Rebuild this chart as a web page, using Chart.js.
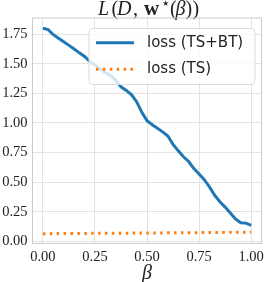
<!DOCTYPE html>
<html>
<head>
<meta charset="utf-8">
<script src="https://cdn.jsdelivr.net/npm/chart.js@4"></script>
<style>
  html, body { margin: 0; padding: 0; background: #fff; }
  #wrap { width: 269px; height: 282px; }
</style>
</head>
<body>
<div id="wrap"><canvas id="chart"></canvas></div>
<script>
// beta values on the x axis
const betas = [0.000, 0.025, 0.050, 0.075, 0.100, 0.125, 0.150, 0.175, 0.200, 0.225,
               0.250, 0.275, 0.300, 0.325, 0.350, 0.375, 0.400, 0.425, 0.450, 0.475,
               0.500, 0.525, 0.550, 0.575, 0.600, 0.625, 0.650, 0.675, 0.700, 0.725,
               0.750, 0.775, 0.800, 0.825, 0.850, 0.875, 0.900, 0.925, 0.950, 0.975, 1.000];
const lossTSBT = [1.800, 1.788, 1.745, 1.715, 1.685, 1.655, 1.625, 1.592, 1.562, 1.520,
                  1.490, 1.455, 1.425, 1.400, 1.360, 1.305, 1.275, 1.240, 1.180, 1.090,
                  1.020, 0.985, 0.955, 0.925, 0.890, 0.820, 0.765, 0.715, 0.675, 0.615,
                  0.570, 0.522, 0.460, 0.390, 0.335, 0.290, 0.240, 0.190, 0.158, 0.155, 0.135];
const lossTS = [0.066, 0.066, 0.067, 0.067, 0.067, 0.068, 0.068, 0.068, 0.068, 0.069,
                0.069, 0.069, 0.069, 0.070, 0.070, 0.070, 0.070, 0.071, 0.071, 0.071,
                0.071, 0.072, 0.072, 0.072, 0.073, 0.073, 0.073, 0.074, 0.074, 0.074,
                0.075, 0.075, 0.075, 0.076, 0.076, 0.077, 0.077, 0.078, 0.078, 0.079, 0.079];
const seriesNames = ['loss (TS+BT)', 'loss (TS)'];
const yTicks = [0.00, 0.25, 0.50, 0.75, 1.00, 1.25, 1.50, 1.75];

const BLUE = '#1f77b4';
const ORANGE = '#ff7f0e';
const SERIF = '"Liberation Serif", serif';

// title, x label and the inset legend
const decor = {
  id: 'decor',
  afterDraw(chart) {
    const ctx = chart.ctx;
    const area = chart.chartArea;
    const cx = (area.left + area.right) / 2;
    ctx.save();
    ctx.textAlign = 'left';
    ctx.textBaseline = 'alphabetic';

    // title: L(D, w*(beta)) -- [text, font, x offset, y offset]
    const parts = [
      ['L', 'italic 20px ' + SERIF, 0, 0],
      ['(', '20px ' + SERIF, 13.5, 0],
      ['D', 'italic 20px ' + SERIF, 19, 0],
      [',', '20px ' + SERIF, 35, 0],
      ['w', 'bold 21px ' + SERIF, 46, 0],
      ['\u22C6', '15px ' + SERIF, 62.5, -7],
      ['(', '20px ' + SERIF, 72, 0],
      ['\u03B2', 'italic 20px ' + SERIF, 77.5, 0],
      [')', '20px ' + SERIF, 87.5, 0],
      [')', '20px ' + SERIF, 94.5, 0]
    ];
    const x0 = cx - 49;
    ctx.fillStyle = '#222';
    parts.forEach(p => {
      ctx.font = p[1];
      ctx.fillText(p[0], x0 + p[2], 15 + p[3]);
    });

    // x axis label
    ctx.font = 'italic 20px ' + SERIF;
    ctx.textAlign = 'center';
    ctx.textBaseline = 'middle';
    ctx.fillText('\u03B2', cx, 274);

    // legend box
    const bx = 89, by = 28.5, bw = 166, bh = 56;
    ctx.beginPath();
    ctx.roundRect(bx, by, bw, bh, 4);
    ctx.fillStyle = 'rgba(255,255,255,0.8)';
    ctx.fill();
    ctx.strokeStyle = '#dcdcdc';
    ctx.lineWidth = 1;
    ctx.stroke();

    const rows = [42.7, 69.3];
    const colors = [BLUE, ORANGE];
    const dashes = [[], [2.5, 4.4]];
    rows.forEach((ry, i) => {
      ctx.beginPath();
      ctx.setLineDash(dashes[i]);
      ctx.lineCap = 'butt';
      ctx.strokeStyle = colors[i];
      ctx.lineWidth = 3;
      ctx.moveTo(96, ry);
      ctx.lineTo(134, ry);
      ctx.stroke();
      ctx.setLineDash([]);
      ctx.font = '15px "DejaVu Sans", sans-serif';
      ctx.fillStyle = '#222';
      ctx.textAlign = 'left';
      ctx.textBaseline = 'middle';
      ctx.fillText(seriesNames[i], 147, ry);
    });

    // axes frame
    ctx.strokeStyle = '#cccccc';
    ctx.lineWidth = 1;
    ctx.strokeRect(area.left, area.top, area.right - area.left, area.bottom - area.top);
    ctx.restore();
  }
};

new Chart(document.getElementById('chart'), {
  type: 'line',
  data: {
    datasets: [{
      label: seriesNames[0],
      data: betas.map((b, i) => ({ x: b, y: lossTSBT[i] })),
      borderColor: BLUE,
      borderWidth: 3,
      pointRadius: 0,
      tension: 0
    }, {
      label: seriesNames[1],
      data: betas.map((b, i) => ({ x: b, y: lossTS[i] })),
      borderColor: ORANGE,
      borderWidth: 3,
      borderDash: [2.5, 4.4],
      borderCapStyle: 'butt',
      pointRadius: 0,
      tension: 0
    }]
  },
  options: {
    responsive: true,
    maintainAspectRatio: false,
    animation: false,
    layout: { padding: { top: 18, right: 4, left: 0, bottom: 0 } },
    plugins: {
      legend: { display: false },
      title: { display: false },
      tooltip: { enabled: false }
    },
    scales: {
      x: {
        type: 'linear',
        min: -0.05,
        max: 1.05,
        afterFit(scale) { scale.height = 38.5; },
        grid: { color: '#e3e3e3', drawTicks: false, lineWidth: 1 },
        border: { display: false },
        ticks: {
          stepSize: 0.25,
          includeBounds: false,
          padding: 5,
          color: '#222',
          font: { family: SERIF, size: 14.5 },
          maxRotation: 0,
          callback: v => v.toFixed(2)
        }
      },
      y: {
        min: -0.017,
        max: 1.886,
        afterFit(scale) { scale.width = 32.5; },
        afterBuildTicks(scale) { scale.ticks = yTicks.map(v => ({ value: v })); },
        grid: { color: '#e3e3e3', drawTicks: false, lineWidth: 1 },
        border: { display: false },
        ticks: {
          padding: 5,
          color: '#222',
          font: { family: SERIF, size: 14.5 },
          callback: v => v.toFixed(2)
        }
      }
    }
  },
  plugins: [decor]
});
</script>
</body>
</html>
